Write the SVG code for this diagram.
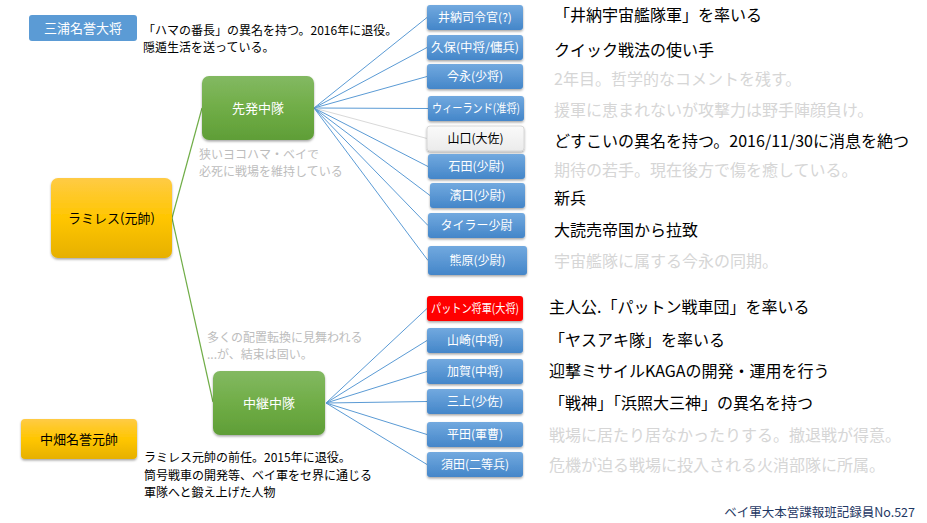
<svg xmlns="http://www.w3.org/2000/svg" width="927" height="523" viewBox="0 0 927 523">
<defs>
<linearGradient id="gBlue" x1="0" y1="0" x2="0" y2="1"><stop offset="0" stop-color="#72A9DF"/><stop offset="1" stop-color="#4486C9"/></linearGradient>
<linearGradient id="gGreen" x1="0" y1="0" x2="0" y2="1"><stop offset="0" stop-color="#83B962"/><stop offset="0.5" stop-color="#70AD47"/><stop offset="1" stop-color="#5F9E37"/></linearGradient>
<linearGradient id="gGold" x1="0" y1="0" x2="0" y2="1"><stop offset="0" stop-color="#FFCB45"/><stop offset="0.5" stop-color="#FFC600"/><stop offset="1" stop-color="#E6B000"/></linearGradient>
<linearGradient id="gGray" x1="0" y1="0" x2="0" y2="1"><stop offset="0" stop-color="#FAFAFA"/><stop offset="1" stop-color="#EBEBEB"/></linearGradient>
<filter id="sh" x="-10%" y="-20%" width="130%" height="160%"><feDropShadow dx="0" dy="1.5" stdDeviation="1.2" flood-color="#000" flood-opacity="0.35"/></filter>
</defs>
<style>
text{font-family:"Noto Sans CJK JP","Noto Sans",sans-serif}
.nb rect{fill:url(#gBlue);filter:url(#sh)}
.nb text,.ng text{fill:#fff;font-size:12px;text-anchor:middle}
.ng rect{fill:url(#gGreen);filter:url(#sh)}
.ng text{font-size:13px}
.ny rect{fill:url(#gGold);filter:url(#sh)}
.ny text{fill:#000;font-size:13px;text-anchor:middle}
.d{font-size:16px;fill:#000}
.dg{font-size:16px;fill:#D6D6D6}
.note{font-size:12px;fill:#000}
.noteg{font-size:12px;fill:#BDBDBD}
.cb{stroke:#5B9BD5;stroke-width:1;fill:none}
.cg{stroke:#70AD47;stroke-width:1.2;fill:none}
.cl{stroke:#D9D9D9;stroke-width:1;fill:none}
</style>

<g id="connectors">
<path class="cg" d="M172,218 L202,108"/>
<path class="cg" d="M172,218 L213,402"/>
<path class="cb" d="M314,108 L427,17.5"/>
<path class="cb" d="M314,108 L427,47.5"/>
<path class="cb" d="M314,108 L427,76.5"/>
<path class="cb" d="M314,108 L428,108.5"/>
<path class="cl" d="M314,108 L427,138.5"/>
<path class="cb" d="M314,108 L428,166.5"/>
<path class="cb" d="M314,108 L430,195.5"/>
<path class="cb" d="M314,108 L428,225.5"/>
<path class="cb" d="M314,108 L428,260.5"/>
<path class="cb" d="M326,403 L427,308.5"/>
<path class="cb" d="M326,403 L427,340.5"/>
<path class="cb" d="M326,403 L427,371.5"/>
<path class="cb" d="M326,403 L427,401.5"/>
<path class="cb" d="M326,403 L427,434.5"/>
<path class="cb" d="M326,403 L427,464.5"/>
</g>

<g id="miura"><rect x="29" y="15" width="108" height="26" rx="3" fill="#5B9BD5"/><text x="83" y="32.5" fill="#fff" font-size="13" text-anchor="middle">三浦名誉大将</text></g>
<g id="ramirez" class="ny"><rect x="51" y="178" width="121" height="80" rx="7"/><text x="111.5" y="222.5">ラミレス(元帥)</text></g>
<g id="nakahata" class="ny"><rect x="21" y="419" width="116" height="40" rx="4"/><text x="79" y="443.5">中畑名誉元帥</text></g>
<g id="senpatsu" class="ng"><rect x="202" y="76" width="112" height="64" rx="7"/><text x="258" y="112.5">先発中隊</text></g>
<g id="chukei" class="ng"><rect x="213" y="371" width="112" height="64" rx="7"/><text x="269" y="407.5">中継中隊</text></g>

<g id="n1" class="nb"><rect x="427" y="5" width="96" height="25" rx="3"/><text x="475" y="21.5">井納司令官(?)</text></g>
<g id="n2" class="nb"><rect x="427" y="35" width="96" height="25" rx="3"/><text x="475" y="51.5" textLength="88" lengthAdjust="spacingAndGlyphs">久保(中将/傭兵)</text></g>
<g id="n3" class="nb"><rect x="427" y="64" width="96" height="25" rx="3"/><text x="475" y="80.5">今永(少将)</text></g>
<g id="n4" class="nb"><rect x="428" y="96" width="96" height="25" rx="3"/><text x="476" y="112.5" textLength="88" lengthAdjust="spacingAndGlyphs">ウィーランド(准将)</text></g>
<g id="n5"><rect x="427" y="126" width="97" height="25" rx="3" fill="url(#gGray)" stroke="#D0D0D0" stroke-width="0.8" filter="url(#sh)"/><text x="475.5" y="142.5" fill="#000" font-size="12" text-anchor="middle">山口(大佐)</text></g>
<g id="n6" class="nb"><rect x="428" y="154" width="97" height="25" rx="3"/><text x="476.5" y="170.5">石田(少尉)</text></g>
<g id="n7" class="nb"><rect x="430" y="183" width="95" height="25" rx="3"/><text x="477.5" y="199.5">濱口(少尉)</text></g>
<g id="n8" class="nb"><rect x="428" y="213" width="97" height="25" rx="3"/><text x="476.5" y="229.5">タイラー少尉</text></g>
<g id="n9" class="nb"><rect x="428" y="246" width="99" height="29" rx="3"/><text x="477.5" y="264.5">熊原(少尉)</text></g>

<g id="n10"><rect x="427" y="296" width="96" height="25" rx="3" fill="#FF0000" filter="url(#sh)"/><text x="475" y="312.5" fill="#fff" font-size="12" text-anchor="middle" textLength="88" lengthAdjust="spacingAndGlyphs">パットン将軍(大将)</text></g>
<g id="n11" class="nb"><rect x="427" y="328" width="96" height="25" rx="3"/><text x="475" y="344.5">山崎(中将)</text></g>
<g id="n12" class="nb"><rect x="427" y="359" width="96" height="25" rx="3"/><text x="475" y="375.5">加賀(中将)</text></g>
<g id="n13" class="nb"><rect x="427" y="389" width="96" height="25" rx="3"/><text x="475" y="405.5">三上(少佐)</text></g>
<g id="n14" class="nb"><rect x="427" y="422" width="96" height="25" rx="3"/><text x="475" y="438.5">平田(軍曹)</text></g>
<g id="n15" class="nb"><rect x="427" y="452" width="96" height="25" rx="3"/><text x="475" y="468.5">須田(二等兵)</text></g>

<g id="descriptions">
<text class="d" x="554" y="21">「井納宇宙艦隊軍」を率いる</text>
<text class="d" x="554" y="56">クイック戦法の使い手</text>
<text class="dg" x="554" y="85">2年目。哲学的なコメントを残す。</text>
<text class="dg" x="554" y="116">援軍に恵まれないが攻撃力は野手陣顔負け。</text>
<text class="d" x="554" y="147">どすこいの異名を持つ。2016/11/30に消息を絶つ</text>
<text class="dg" x="554" y="176">期待の若手。現在後方で傷を癒している。</text>
<text class="d" x="554" y="204">新兵</text>
<text class="d" x="554" y="236">大読売帝国から拉致</text>
<text class="dg" x="554" y="267">宇宙艦隊に属する今永の同期。</text>
<text class="d" x="549" y="313">主人公.「パットン戦車団」を率いる</text>
<text class="d" x="549" y="346">「ヤスアキ隊」を率いる</text>
<text class="d" x="549" y="377">迎撃ミサイルKAGAの開発・運用を行う</text>
<text class="d" x="549" y="409">「戦神」「浜照大三神」の異名を持つ</text>
<text class="dg" x="549" y="441">戦場に居たり居なかったりする。撤退戦が得意。</text>
<text class="dg" x="549" y="471">危機が迫る戦場に投入される火消部隊に所属。</text>
</g>

<g id="notes">
<text class="note" x="143" y="35">「ハマの番長」の異名を持つ。2016年に退役。</text>
<text class="note" x="143" y="52">隠遁生活を送っている。</text>
<text class="noteg" x="199" y="159">狭いヨコハマ・ベイで</text>
<text class="noteg" x="199" y="176">必死に戦場を維持している</text>
<text class="noteg" x="207" y="342">多くの配置転換に見舞われる</text>
<text class="noteg" x="207" y="359">...が、結束は固い。</text>
<text class="note" x="144" y="462">ラミレス元帥の前任。2015年に退役。</text>
<text class="note" x="144" y="479.5">筒号戦車の開発等、ベイ軍をセ界に通じる</text>
<text class="note" x="144" y="497">軍隊へと鍛え上げた人物</text>
<text x="915" y="517" font-size="12.5" fill="#1F3864" text-anchor="end">ベイ軍大本営諜報班記録員No.527</text>
</g>
</svg>
